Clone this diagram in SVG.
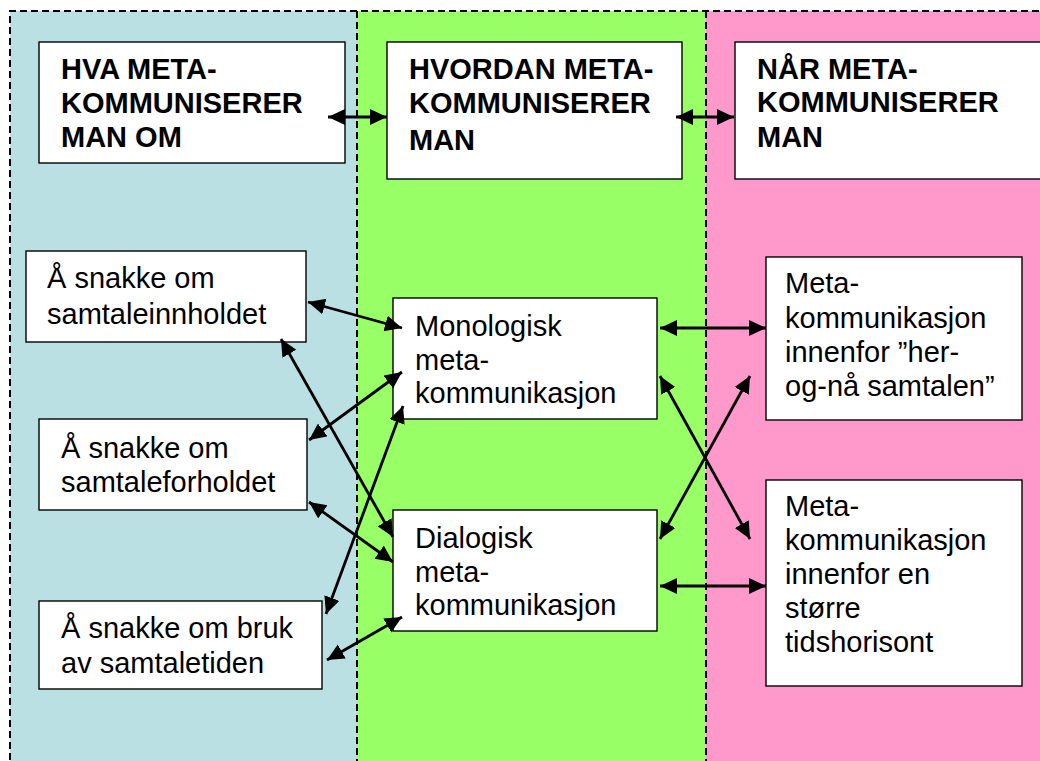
<svg xmlns="http://www.w3.org/2000/svg" width="1040" height="761" viewBox="0 0 1040 761">
<style>
.box{fill:#fff;stroke:#000;stroke-width:1.4}
.t{font-family:"Liberation Sans",Arial,sans-serif;font-size:29px;fill:#000}
.b{font-weight:bold}
.dash{stroke:#000;stroke-width:2;stroke-dasharray:7,4;fill:none}
.c{stroke:#000;stroke-width:2.8;fill:none;marker-start:url(#ah);marker-end:url(#ah)}
</style>
<defs>
<marker id="ah" markerUnits="userSpaceOnUse" markerWidth="20" markerHeight="18" refX="17" refY="8" orient="auto-start-reverse">
<path d="M0,0 L17,8 L0,16 z" fill="#000"/>
</marker>
</defs>
<rect x="0" y="0" width="1040" height="761" fill="#fff"/>
<g id="panels">
<rect x="10" y="11" width="347" height="760" fill="#BBE0E3"/>
<rect x="357" y="11" width="349" height="760" fill="#99FF66"/>
<rect x="706" y="11" width="340" height="760" fill="#FF99CC"/>
<path class="dash" d="M10,771 L10,11 L1045,11 M357,11 L357,771 M706,11 L706,771"/>
</g>
<g id="h1">
<rect class="box" x="39" y="42" width="306" height="121"/>
<text class="t b" x="61" y="79">HVA META-</text>
<text class="t b" x="61" y="113">KOMMUNISERER</text>
<text class="t b" x="61" y="147">MAN OM</text>
</g>
<g id="h2">
<rect class="box" x="387" y="42" width="295" height="137"/>
<text class="t b" x="409" y="79">HVORDAN META-</text>
<text class="t b" x="409" y="113">KOMMUNISERER</text>
<text class="t b" x="409" y="150">MAN</text>
</g>
<g id="h3">
<rect class="box" x="735" y="42" width="320" height="137"/>
<text class="t b" x="757" y="79">NÅR META-</text>
<text class="t b" x="757" y="112">KOMMUNISERER</text>
<text class="t b" x="757" y="147">MAN</text>
</g>
<g id="a">
<rect class="box" x="26" y="251" width="280" height="91"/>
<text class="t" x="47" y="288">Å snakke om</text>
<text class="t" x="47" y="324">samtaleinnholdet</text>
</g>
<g id="b">
<rect class="box" x="39" y="419" width="268" height="91"/>
<text class="t" x="61" y="458">Å snakke om</text>
<text class="t" x="61" y="492">samtaleforholdet</text>
</g>
<g id="c">
<rect class="box" x="39" y="601" width="283" height="88"/>
<text class="t" x="61" y="638">Å snakke om bruk</text>
<text class="t" x="61" y="673">av samtaletiden</text>
</g>
<g id="mono">
<rect class="box" x="393" y="298" width="264" height="121"/>
<text class="t" x="415" y="336">Monologisk</text>
<text class="t" x="415" y="370">meta-</text>
<text class="t" x="415" y="403">kommunikasjon</text>
</g>
<g id="dia">
<rect class="box" x="393" y="510" width="264" height="121"/>
<text class="t" x="415" y="548">Dialogisk</text>
<text class="t" x="415" y="582">meta-</text>
<text class="t" x="415" y="615">kommunikasjon</text>
</g>
<g id="r1">
<rect class="box" x="766" y="257" width="256" height="163"/>
<text class="t" x="785" y="293">Meta-</text>
<text class="t" x="785" y="328">kommunikasjon</text>
<text class="t" x="785" y="362">innenfor ”her-</text>
<text class="t" x="785" y="396">og-nå samtalen”</text>
</g>
<g id="r2">
<rect class="box" x="766" y="480" width="256" height="206"/>
<text class="t" x="785" y="516">Meta-</text>
<text class="t" x="785" y="550">kommunikasjon</text>
<text class="t" x="785" y="584">innenfor en</text>
<text class="t" x="785" y="618">større</text>
<text class="t" x="785" y="652">tidshorisont</text>
</g>
<g id="connectors">
<line class="c" x1="328" y1="117" x2="387" y2="117"/>
<line class="c" x1="676" y1="117" x2="734" y2="117"/>
<line class="c" x1="308" y1="302" x2="402" y2="328"/>
<line class="c" x1="402" y1="372" x2="309" y2="440"/>
<line class="c" x1="281" y1="339" x2="393" y2="537"/>
<line class="c" x1="403" y1="406" x2="326" y2="614"/>
<line class="c" x1="309" y1="502" x2="393" y2="562"/>
<line class="c" x1="402" y1="617" x2="327" y2="660"/>
<line class="c" x1="660" y1="328" x2="766" y2="328"/>
<line class="c" x1="660" y1="586" x2="766" y2="586"/>
<line class="c" x1="660" y1="376" x2="750" y2="539"/>
<line class="c" x1="660" y1="539" x2="750" y2="376"/>
</g>
</svg>
